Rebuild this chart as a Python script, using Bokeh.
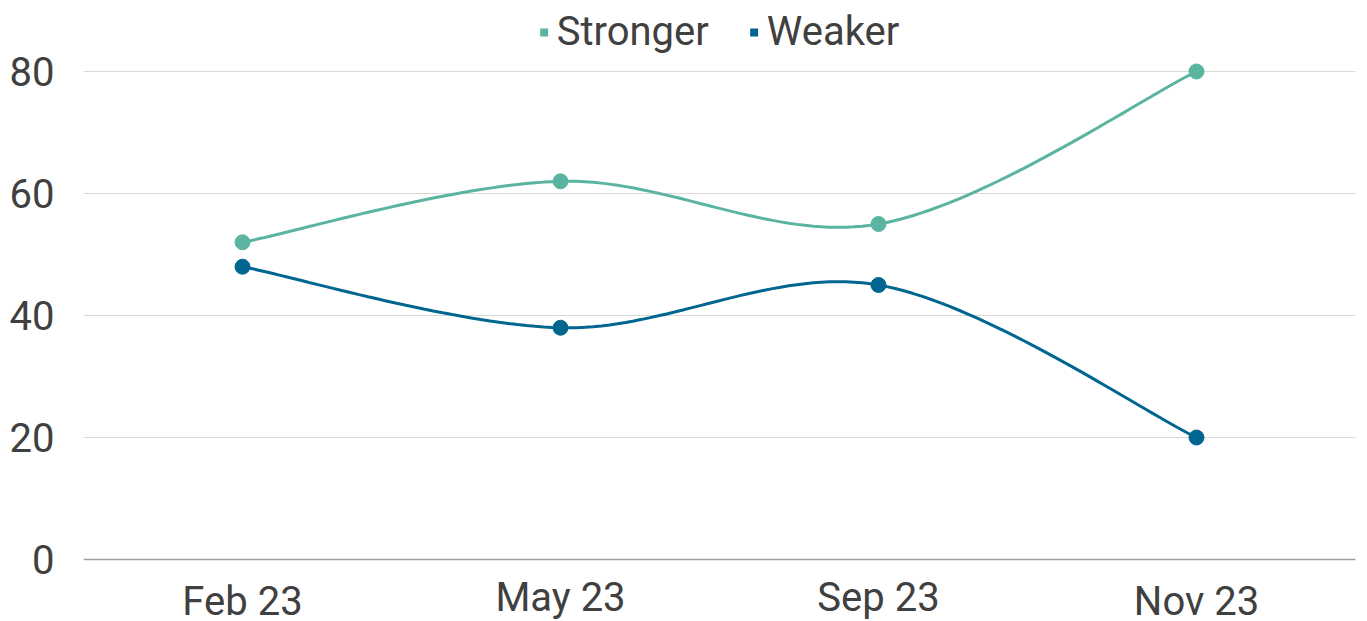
import numpy as np
from bokeh.plotting import figure
from bokeh.models import Legend, LegendItem, FixedTicker, ColumnDataSource, Range1d, Label, Span
from bokeh.embed import file_html
from bokeh.resources import INLINE

categories = ["Feb 23", "May 23", "Sep 23", "Nov 23"]
stronger = [52, 62, 55, 80]
weaker = [48, 38, 45, 20]
y_ticks = [0, 20, 40, 60, 80]

STRONG_C = "#5AB4A0"
WEAK_C = "#00668F"
TEXT_C = "#404040"
FONT = "Roboto"
FSIZE = "40px"

xs = [i + 0.5 for i in range(len(categories))]


def smooth(x, y, n=40):
    # Catmull-Rom style cubic Bezier smoothing through the given points
    x = np.asarray(x, float)
    y = np.asarray(y, float)
    px = np.concatenate([[x[0]], x, [x[-1]]])
    py = np.concatenate([[y[0]], y, [y[-1]]])
    ox, oy = [], []
    t = np.linspace(0, 1, n)
    for i in range(1, len(px) - 2):
        p0 = np.array([px[i], py[i]])
        p3 = np.array([px[i + 1], py[i + 1]])
        c1 = p0 + (np.array([px[i + 1], py[i + 1]]) - np.array([px[i - 1], py[i - 1]])) / 6
        c2 = p3 - (np.array([px[i + 2], py[i + 2]]) - np.array([px[i], py[i]])) / 6
        b = ((1 - t) ** 3)[:, None] * p0 + (3 * (1 - t) ** 2 * t)[:, None] * c1 \
            + (3 * (1 - t) * t ** 2)[:, None] * c2 + (t ** 3)[:, None] * p3
        ox.extend(b[:, 0])
        oy.extend(b[:, 1])
    return ox, oy


p = figure(width=1359, height=621, output_backend="svg", toolbar_location=None,
           x_range=Range1d(0, 4), y_range=Range1d(-10.16, 91.64),
           min_border_left=83, min_border_right=4, min_border_top=0, min_border_bottom=0)
p.outline_line_color = None
p.background_fill_color = "white"
p.xaxis.visible = False

p.xgrid.grid_line_color = None
p.ygrid.grid_line_color = "#D9D9D9"
p.ygrid.grid_line_width = 1

# baseline (category axis line)
p.add_layout(Span(location=0, dimension="width", line_color="#A0A0A0", line_width=1.5))

sx, sy = smooth(xs, stronger)
wx, wy = smooth(xs, weaker)
p.line(sx, sy, line_color=STRONG_C, line_width=3)
p.line(wx, wy, line_color=WEAK_C, line_width=3)
p.scatter(xs, stronger, size=15, marker="circle", fill_color=STRONG_C, line_color=STRONG_C)
p.scatter(xs, weaker, size=15, marker="circle", fill_color=WEAK_C, line_color=WEAK_C)

# legend-only square swatches (placed outside the visible range)
dummy = ColumnDataSource(dict(l=[-100], r=[-99], b=[-100], t=[-99]))
ls = p.quad(left="l", right="r", bottom="b", top="t", source=dummy, fill_color=STRONG_C, line_color=None)
lw = p.quad(left="l", right="r", bottom="b", top="t", source=dummy, fill_color=WEAK_C, line_color=None)

legend = Legend(items=[LegendItem(label="Stronger", renderers=[ls]),
                       LegendItem(label="Weaker", renderers=[lw])],
                orientation="horizontal", location="top_center",
                label_text_font=FONT, label_text_font_size=FSIZE, label_text_color=TEXT_C,
                glyph_width=10, glyph_height=10, label_standoff=8, spacing=40,
                padding=0, margin=8, border_line_color=None, background_fill_alpha=0)
p.add_layout(legend)

# category labels drawn below the baseline (slightly staggered as in the original)
label_dy = [-6.9, -6.3, -6.3, -6.9]
for x, c, dy in zip(xs, categories, label_dy):
    p.add_layout(Label(x=x, y=dy, text=c, text_align="center", text_baseline="middle",
                       text_font=FONT, text_font_size=FSIZE, text_color=TEXT_C))

p.yaxis.ticker = FixedTicker(ticks=y_ticks)
p.yaxis.axis_line_color = None
p.yaxis.major_tick_line_color = None
p.yaxis.minor_tick_line_color = None
p.yaxis.major_label_text_font = FONT
p.yaxis.major_label_text_font_size = FSIZE
p.yaxis.major_label_text_color = TEXT_C
p.yaxis.major_label_standoff = 23

open("out.html", "w").write(file_html(p, INLINE))
